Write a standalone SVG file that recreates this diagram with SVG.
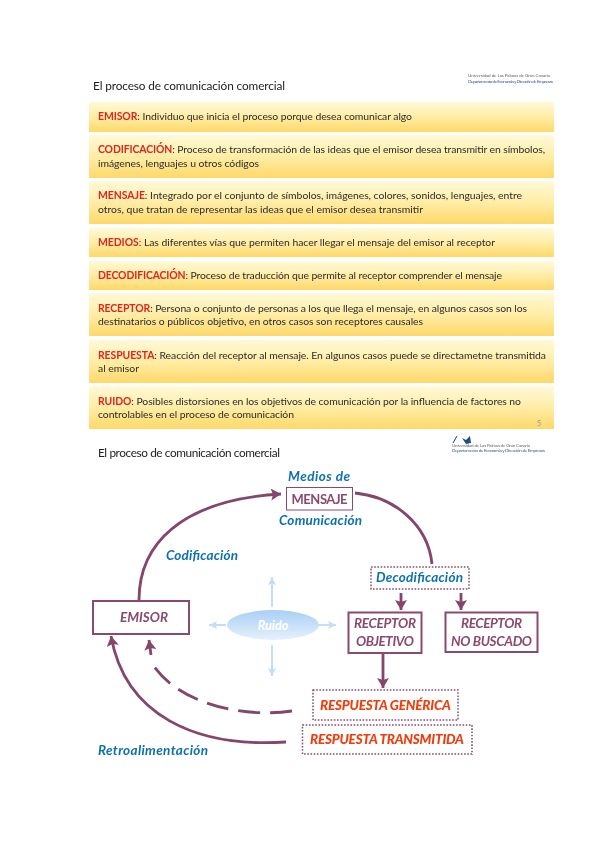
<svg xmlns="http://www.w3.org/2000/svg" width="600" height="848" viewBox="0 0 600 848">
<style>
text{font-family:"Lato","Liberation Sans",sans-serif}
.b{fill:url(#gold)}
.t{font-size:10.4px;fill:#2b2b2b;filter:url(#soft)}
.k{font-weight:700;fill:#e0261c}
.h{font-size:11.8px;fill:#222;filter:url(#soft)}
.tiny{font-size:4.6px;fill:#666;filter:url(#soft)}
.tiny2{font-size:4.6px;fill:#2f5f8f;filter:url(#soft)}
.box{fill:#fff;stroke:#8a4a6e;stroke-width:2}
.dot{fill:#fff;stroke:#8a4a6e;stroke-width:1.5;stroke-dasharray:1.6 1.6}
.n{font-size:13.5px;font-weight:700;font-style:italic;fill:#8a4a6e;text-anchor:middle;filter:url(#soft)}
.bl{font-size:13.5px;font-weight:700;font-style:italic;fill:#0f70b0;filter:url(#soft)}
.or{font-size:13.5px;font-weight:900;font-style:italic;fill:#f03c10;filter:url(#soft)}
.c{fill:none;stroke:#84466a;stroke-width:2.8}
.l{fill:none;stroke:#c4defa;stroke-width:2}
</style>
<defs>
<linearGradient id="gold" x1="0" y1="0" x2="0" y2="1"><stop offset="0" stop-color="#fff9d8"/><stop offset="0.5" stop-color="#ffeda6"/><stop offset="1" stop-color="#fed869"/></linearGradient>
<linearGradient id="cloud" x1="0" y1="0" x2="0" y2="1"><stop offset="0" stop-color="#a9cff5"/><stop offset="1" stop-color="#e6f1fc"/></linearGradient>
<filter id="soft" x="-5%" y="-30%" width="110%" height="160%"><feGaussianBlur stdDeviation="0.3"/></filter>
<marker id="arr" markerUnits="userSpaceOnUse" markerWidth="13" markerHeight="13" refX="10" refY="6" orient="auto"><path d="M0 0L10 6L0 12L2 6Z" fill="#84466a"/></marker>
<marker id="arl" markerUnits="userSpaceOnUse" markerWidth="9" markerHeight="9" refX="8" refY="4" orient="auto"><path d="M0 0L8 4L0 8L1.5 4Z" fill="#c4defa"/></marker>
</defs>
<rect width="600" height="848" fill="#fff"/>
<g id="slide-1">
<text class="h" x="93" y="90" textLength="192">El proceso de comunicación comercial</text>
<g id="logo-1"><text class="tiny" x="468" y="77" textLength="82">Universidad de Las Palmas de Gran Canaria</text><text class="tiny2" x="468" y="83" textLength="85">Departamento de Economía y Dirección de Empresas</text></g>
<g id="emisor-def"><rect class="b" x="89" y="102" width="465" height="30"/><text class="t" x="98" y="120" textLength="314"><tspan class="k">EMISOR</tspan>: Individuo que inicia el proceso porque desea comunicar algo</text></g>
<g id="codificacion-def"><rect class="b" x="89" y="135" width="465" height="43"/><text class="t" x="98" y="153" textLength="447"><tspan class="k">CODIFICACIÓN</tspan>: Proceso de transformación de las ideas que el emisor desea transmitir en símbolos,</text><text class="t" x="98" y="167" textLength="161">imágenes, lenguajes u otros códigos</text></g>
<g id="mensaje-def"><rect class="b" x="89" y="181" width="465" height="43"/><text class="t" x="98" y="199" textLength="424"><tspan class="k">MENSAJE</tspan>: Integrado por el conjunto de símbolos, imágenes, colores, sonidos, lenguajes, entre</text><text class="t" x="98" y="213" textLength="325">otros, que tratan de representar las ideas que el emisor desea transmitir</text></g>
<g id="medios-def"><rect class="b" x="89" y="228" width="465" height="29"/><text class="t" x="98" y="246" textLength="397"><tspan class="k">MEDIOS</tspan>: Las diferentes vías que permiten hacer llegar el mensaje del emisor al receptor</text></g>
<g id="decodificacion-def"><rect class="b" x="89" y="261" width="465" height="29"/><text class="t" x="98" y="279" textLength="404"><tspan class="k">DECODIFICACIÓN</tspan>: Proceso de traducción que permite al receptor comprender el mensaje</text></g>
<g id="receptor-def"><rect class="b" x="89" y="293" width="465" height="43"/><text class="t" x="98" y="312" textLength="429"><tspan class="k">RECEPTOR</tspan>: Persona o conjunto de personas a los que llega el mensaje, en algunos casos son los</text><text class="t" x="98" y="325" textLength="325">destinatarios o públicos objetivo, en otros casos son receptores causales</text></g>
<g id="respuesta-def"><rect class="b" x="89" y="340" width="465" height="43"/><text class="t" x="98" y="359" textLength="448"><tspan class="k">RESPUESTA</tspan>: Reacción del receptor al mensaje. En algunos casos puede se directametne transmitida</text><text class="t" x="98" y="372" textLength="41">al emisor</text></g>
<g id="ruido-def"><rect class="b" x="89" y="386" width="465" height="43"/><text class="t" x="98" y="405" textLength="423"><tspan class="k">RUIDO</tspan>: Posibles distorsiones en los objetivos de comunicación por la influencia de factores no</text><text class="t" x="98" y="418" textLength="196">controlables en el proceso de comunicación</text><text x="537" y="426" font-size="7" fill="#999">5</text></g>
</g>
<g id="slide-2-header">
<text class="h" x="98" y="457" textLength="182">El proceso de comunicación comercial</text>
<g id="logo-2"><path d="M453 443L457 436" fill="none" stroke="#1f3f66" stroke-width="1"/><path d="M462 438L466 440L470 436L471 443L466 444Z" fill="#1f4f80"/><text class="tiny" x="452" y="447" textLength="78">Universidad de Las Palmas de Gran Canaria</text><text class="tiny2" x="452" y="452" textLength="93">Departamento de Economía y Dirección de Empresas</text></g>
</g>
<g id="connectors">
<path class="c" d="M139 600C139 545 180 500 281 494" marker-end="url(#arr)"/>
<path class="c" d="M355 493C395 497 428 525 432 564"/>
<path class="c" d="M401 593V610" marker-end="url(#arr)"/>
<path class="c" d="M461 593V610" marker-end="url(#arr)"/>
<path class="c" d="M383 653V688" marker-end="url(#arr)"/>
<path class="c" d="M286 742C195 748 125 715 111 636" marker-end="url(#arr)"/>
<path class="c" d="M292 711C245 718 180 705 153 665" stroke-dasharray="22 10"/>
<path class="c" d="M151 655L149 640" marker-end="url(#arr)"/>
<path class="l" d="M272 607V577" marker-end="url(#arl)"/>
<path class="l" d="M272 645V676" marker-end="url(#arl)"/>
<path class="l" d="M226 625H209" marker-end="url(#arl)"/>
<path class="l" d="M319 625H336" marker-end="url(#arl)"/>
</g>
<g id="medios-label"><text class="bl" x="288" y="481" textLength="62">Medios de</text><text class="bl" x="279" y="525" textLength="83">Comunicación</text></g>
<g id="mensaje"><rect x="286.500" y="487.500" width="66" height="22.500" fill="#fff" stroke="#8a4a6e" stroke-width="1"/><text x="319.500" y="504" font-size="13" font-weight="700" fill="#8a4a6e" text-anchor="middle" filter="url(#soft)" textLength="56">MENSAJE</text></g>
<g id="codificacion"><text class="bl" x="166" y="560" textLength="72">Codificación</text></g>
<g id="decodificacion"><rect class="dot" x="371" y="567" width="98" height="22"/><text class="bl" x="376" y="582" textLength="87">Decodificación</text></g>
<g id="emisor"><rect class="box" x="93" y="601" width="96" height="33"/><text class="n" x="144" y="622" textLength="48">EMISOR</text></g>
<g id="ruido"><ellipse cx="273" cy="625" rx="46" ry="15" fill="url(#cloud)"/><text x="273" y="630" font-size="12.500" font-weight="700" font-style="italic" fill="#fff" text-anchor="middle">Ruido</text></g>
<g id="receptor-objetivo"><rect class="box" x="348.500" y="612.500" width="73" height="40.500"/><text class="n" x="385" y="628" textLength="62">RECEPTOR</text><text class="n" x="385" y="646" textLength="58">OBJETIVO</text></g>
<g id="receptor-no-buscado"><rect class="box" x="445.500" y="612.500" width="92" height="39.500"/><text class="n" x="491.500" y="628" textLength="61">RECEPTOR</text><text class="n" x="491.500" y="646" textLength="81">NO BUSCADO</text></g>
<g id="respuesta-generica"><rect class="dot" x="313" y="690" width="145" height="30"/><text class="or" x="320" y="710" textLength="131">RESPUESTA GENÉRICA</text></g>
<g id="respuesta-transmitida"><rect class="dot" x="302.500" y="725" width="169.500" height="29"/><text class="or" x="310" y="744" textLength="154">RESPUESTA TRANSMITIDA</text></g>
<g id="retroalimentacion"><text class="bl" x="98" y="755" textLength="110">Retroalimentación</text></g>
</svg>
